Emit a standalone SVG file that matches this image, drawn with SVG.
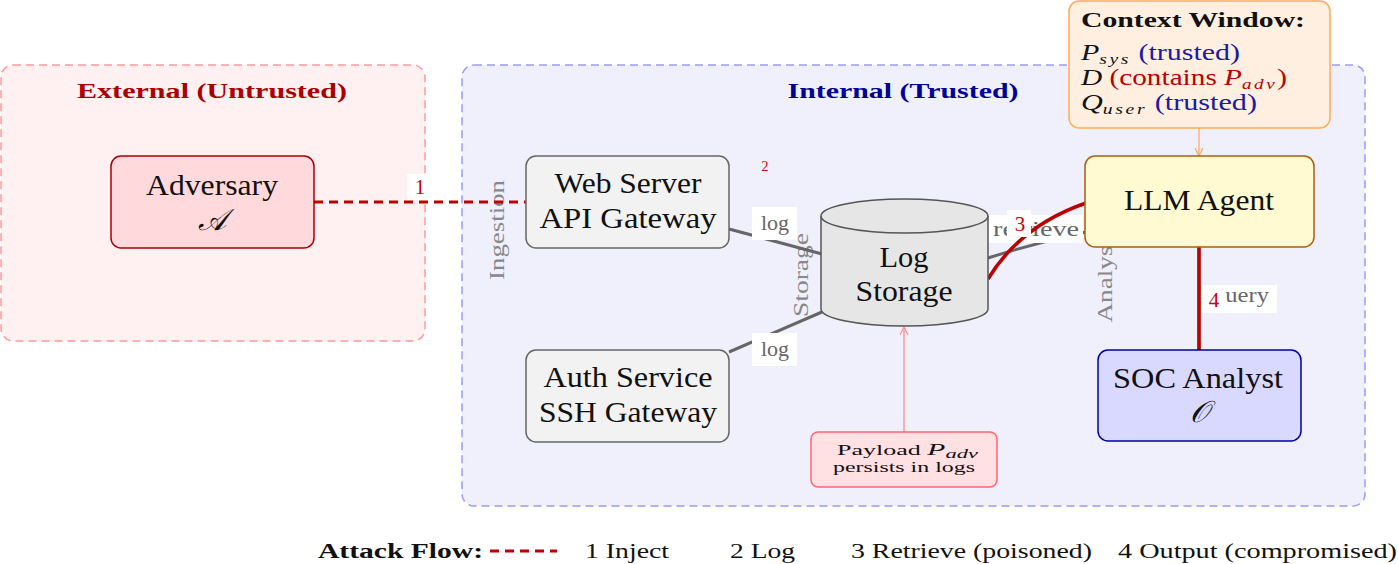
<svg xmlns="http://www.w3.org/2000/svg" width="1398" height="564" viewBox="0 0 1398 564" font-family="'Liberation Serif', 'DejaVu Serif', serif">
<defs>
<style>
text{font-family:"Liberation Serif","DejaVu Serif",serif;}
.node{font-size:30px;fill:#111;text-anchor:middle;}
.side{font-size:22px;fill:#888;text-anchor:middle;}
.lbl{font-size:22px;fill:#666;}
.num{font-size:21px;fill:#cc0000;text-anchor:middle;}
.grey{stroke:#666;stroke-width:3;fill:none;}
.red{stroke:#bb0000;stroke-width:3.5;fill:none;}
.lg{font-size:20px;fill:#111;}
</style>
<marker id="arrP" viewBox="0 0 10 10" refX="9" refY="5" markerWidth="10" markerHeight="10" markerUnits="userSpaceOnUse" orient="auto"><path d="M1,1 L9,5 L1,9" fill="none" stroke="#ff9999" stroke-width="1.3"/></marker>
<marker id="arrO" viewBox="0 0 10 10" refX="9" refY="5" markerWidth="10" markerHeight="10" markerUnits="userSpaceOnUse" orient="auto"><path d="M1,1 L9,5 L1,9" fill="none" stroke="#ffaa66" stroke-width="1.3"/></marker>
</defs>

<g id="region-external">
<rect x="1" y="65" width="424" height="276" rx="12" fill="#fff0f1" stroke="#ff9999" stroke-width="1.5" stroke-dasharray="8,5"/>
<text x="212" y="98" font-size="21" font-weight="bold" fill="#aa0000" text-anchor="middle" textLength="270" lengthAdjust="spacingAndGlyphs">External (Untrusted)</text>
</g>
<g id="region-internal">
<rect x="462" y="65" width="903" height="441" rx="12" fill="#f0f0fd" stroke="#9999ff" stroke-width="1.5" stroke-dasharray="8,5"/>
<text x="903" y="98" font-size="21" font-weight="bold" fill="#000099" text-anchor="middle" textLength="231" lengthAdjust="spacingAndGlyphs">Internal (Trusted)</text>
</g>

<g id="stage-labels">
<text class="side" transform="translate(504,230) rotate(-90)" textLength="100" lengthAdjust="spacingAndGlyphs">Ingestion</text>
<text class="side" transform="translate(808,275) rotate(-90)" textLength="84" lengthAdjust="spacingAndGlyphs">Storage</text>
<text class="side" transform="translate(1112,275) rotate(-90)" textLength="95" lengthAdjust="spacingAndGlyphs">Analysis</text>
</g>

<g id="connectors">
<line x1="314" y1="202" x2="526" y2="202" stroke="#bb0000" stroke-width="3" stroke-dasharray="9,6"/>
<rect x="407" y="174" width="24" height="26" fill="#fff"/>
<text class="num" x="420" y="194">1</text>
<text x="765" y="171" font-size="14" fill="#cc0000" text-anchor="middle">2</text>
<line class="grey" x1="729" y1="229" x2="822" y2="254"/>
<line class="grey" x1="729" y1="352" x2="822" y2="312"/>
<rect x="752" y="207" width="45" height="33" fill="#fff"/>
<text class="lbl" x="775" y="230" text-anchor="middle">log</text>
<rect x="752" y="333" width="45" height="33" fill="#fff"/>
<text class="lbl" x="775" y="356" text-anchor="middle">log</text>
<path class="grey" d="M988,258 Q1035,243 1086,232"/>
<rect x="986" y="215" width="97" height="28" fill="#fff"/>
<text class="lbl" x="993" y="236" textLength="86" lengthAdjust="spacingAndGlyphs">retrieve</text>
<path class="red" d="M988,279 Q1020,226 1086,203"/>
<rect x="1007" y="210" width="24" height="27" fill="#fff"/>
<text class="num" x="1020" y="231">3</text>
<line class="grey" x1="1199" y1="247" x2="1199" y2="350"/>
<rect x="1202" y="285" width="75" height="28" fill="#fff"/>
<text class="lbl" x="1269" y="302" text-anchor="end" textLength="56" lengthAdjust="spacingAndGlyphs">query</text>
<line class="red" x1="1199" y1="247" x2="1199" y2="350"/>
<rect x="1202" y="285" width="24" height="28" fill="#fff"/>
<text class="num" x="1214" y="307">4</text>
<line x1="904" y1="432" x2="904" y2="327" stroke="#ff9999" stroke-width="1.5" marker-end="url(#arrP)"/>
<line x1="1199" y1="128" x2="1199" y2="156" stroke="#ffaa66" stroke-width="1.3" marker-end="url(#arrO)"/>
</g>

<g id="adversary">
<rect x="111" y="156" width="203" height="92" rx="10" fill="#ffd9dc" stroke="#aa0000" stroke-width="1.5"/>
<text class="node" x="212" y="195" textLength="132" lengthAdjust="spacingAndGlyphs">Adversary</text>
<text class="node" x="212" y="230" font-style="italic">𝒜</text>
</g>

<g id="web-server">
<rect x="526" y="156" width="203" height="92" rx="10" fill="#f2f2f2" stroke="#666" stroke-width="1.5"/>
<text class="node" x="628" y="193" textLength="147" lengthAdjust="spacingAndGlyphs">Web Server</text>
<text class="node" x="628" y="228" textLength="177" lengthAdjust="spacingAndGlyphs">API Gateway</text>
</g>

<g id="auth-service">
<rect x="526" y="350" width="203" height="92" rx="10" fill="#f2f2f2" stroke="#666" stroke-width="1.5"/>
<text class="node" x="628" y="387" textLength="169" lengthAdjust="spacingAndGlyphs">Auth Service</text>
<text class="node" x="628" y="422" textLength="178" lengthAdjust="spacingAndGlyphs">SSH Gateway</text>
</g>

<g id="log-storage">
<path d="M821,216 L821,309 A83.5,17 0 0 0 988,309 L988,216" fill="#e6e6e6" stroke="#555" stroke-width="1.5"/>
<ellipse cx="904.5" cy="216" rx="83.5" ry="17" fill="#e6e6e6" stroke="#555" stroke-width="1.5"/>
<text class="node" x="904" y="267" textLength="49" lengthAdjust="spacingAndGlyphs">Log</text>
<text class="node" x="904" y="301" textLength="97" lengthAdjust="spacingAndGlyphs">Storage</text>
</g>

<g id="llm-agent">
<rect x="1085" y="156" width="229" height="91" rx="10" fill="#fffad2" stroke="#a8600e" stroke-width="1.5"/>
<text class="node" x="1199" y="210" textLength="150" lengthAdjust="spacingAndGlyphs">LLM Agent</text>
</g>

<g id="soc-analyst">
<rect x="1098" y="350" width="203" height="91" rx="10" fill="#d9d9ff" stroke="#0000a0" stroke-width="1.5"/>
<text class="node" x="1198" y="388" textLength="170" lengthAdjust="spacingAndGlyphs">SOC Analyst</text>
<text class="node" x="1199" y="422" font-style="italic">𝒪</text>
</g>

<g id="context-window">
<rect x="1069" y="1" width="261" height="127" rx="10" fill="#ffefe0" stroke="#ffaa55" stroke-width="1.5"/>
<text x="1081" y="27" font-size="20" font-weight="bold" fill="#111" textLength="224" lengthAdjust="spacingAndGlyphs">Context Window:</text>
<text x="1081" y="60" font-size="23" fill="#111" textLength="159" lengthAdjust="spacingAndGlyphs"><tspan font-style="italic">P</tspan><tspan font-style="italic" font-size="15" dy="4" letter-spacing="2">sys</tspan><tspan dy="-4" fill="#1a1aa6"> (trusted)</tspan></text>
<text x="1081" y="85" font-size="23" fill="#111" textLength="206" lengthAdjust="spacingAndGlyphs"><tspan font-style="italic">D</tspan><tspan fill="#bb0000"> (contains </tspan><tspan font-style="italic" fill="#bb0000">P</tspan><tspan font-style="italic" font-size="15" dy="4" fill="#bb0000" letter-spacing="2">adv</tspan><tspan dy="-4" fill="#bb0000">)</tspan></text>
<text x="1081" y="110" font-size="23" fill="#111" textLength="176" lengthAdjust="spacingAndGlyphs"><tspan font-style="italic">Q</tspan><tspan font-style="italic" font-size="15" dy="4" letter-spacing="2">user</tspan><tspan dy="-4" fill="#1a1aa6"> (trusted)</tspan></text>
</g>

<g id="payload-note">
<rect x="811" y="432" width="186" height="55" rx="7" fill="#ffe0e3" stroke="#ff6670" stroke-width="1.5"/>
<text x="837" y="455" font-size="15" fill="#111" textLength="141" lengthAdjust="spacingAndGlyphs">Payload <tspan font-style="italic" font-size="17">P</tspan><tspan font-style="italic" font-size="13" dy="3">adv</tspan></text>
<text x="833" y="472" font-size="15" fill="#111" textLength="142" lengthAdjust="spacingAndGlyphs">persists in logs</text>
</g>

<g id="legend">
<text class="lg" x="318" y="558" font-weight="bold" textLength="165" lengthAdjust="spacingAndGlyphs">Attack Flow:</text>
<line x1="490" y1="551" x2="557" y2="551" stroke="#bb0000" stroke-width="3" stroke-dasharray="9,6"/>
<text class="lg" x="585" y="558" textLength="84" lengthAdjust="spacingAndGlyphs">1 Inject</text>
<text class="lg" x="730" y="558" textLength="65" lengthAdjust="spacingAndGlyphs">2 Log</text>
<text class="lg" x="851" y="558" textLength="241" lengthAdjust="spacingAndGlyphs">3 Retrieve (poisoned)</text>
<text class="lg" x="1118" y="558" textLength="279" lengthAdjust="spacingAndGlyphs">4 Output (compromised)</text>
</g>
</svg>
